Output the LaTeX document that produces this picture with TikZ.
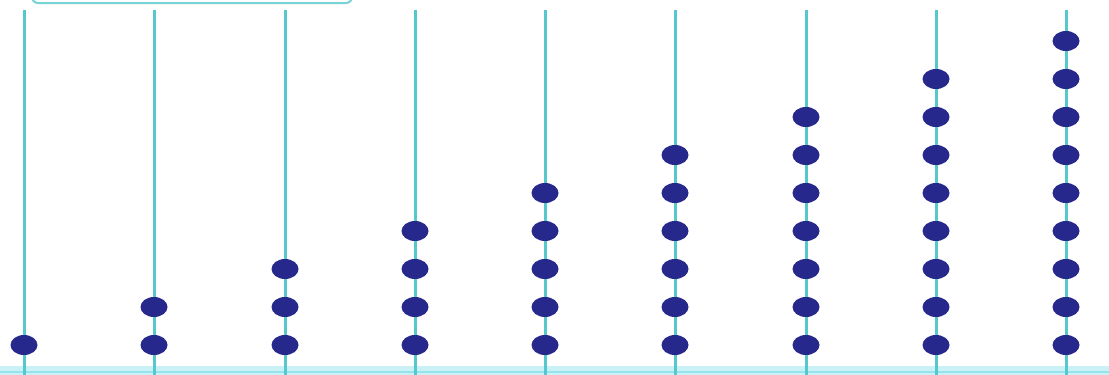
\documentclass[tikz,border=0pt]{standalone}
\usetikzlibrary{shapes.geometric}
\begin{document}
\begin{tikzpicture}[x=1pt,y=-1pt,
  rod/.style={draw=rodc,line width=3pt},
  bead/.style={ellipse,fill=beadc,draw=none,minimum width=27pt,minimum height=20pt,inner sep=0pt}]
\definecolor{rodc}{RGB}{84,200,204}
\definecolor{beadc}{RGB}{38,40,140}
\definecolor{basec}{RGB}{150,228,235}
\useasboundingbox (0,0) rectangle (1109,375);
\fill[white] (0,0) rectangle (1109,375);
% top bar
\draw[draw=rodc!80,line width=2pt,rounded corners=6pt] (32,-10) rectangle (352,3);
% base
\fill[basec!50] (0,366) rectangle (1109,375);
\draw[draw=basec,line width=2pt] (0,372) -- (1109,372);
\foreach \i/\x in {1/24,2/154,3/285,4/415,5/545,6/675,7/806,8/936,9/1066}{
  \coordinate (t\i) at (\x,10);
  \coordinate (b\i) at (\x,375);
  \draw[rod] (t\i) -- (b\i);
  \foreach \k in {1,...,\i}{
    \node[bead] (n\i-\k) at (\x,{345-38.0*(\k-1)}) {};
  }
}
\end{tikzpicture}
\end{document}
